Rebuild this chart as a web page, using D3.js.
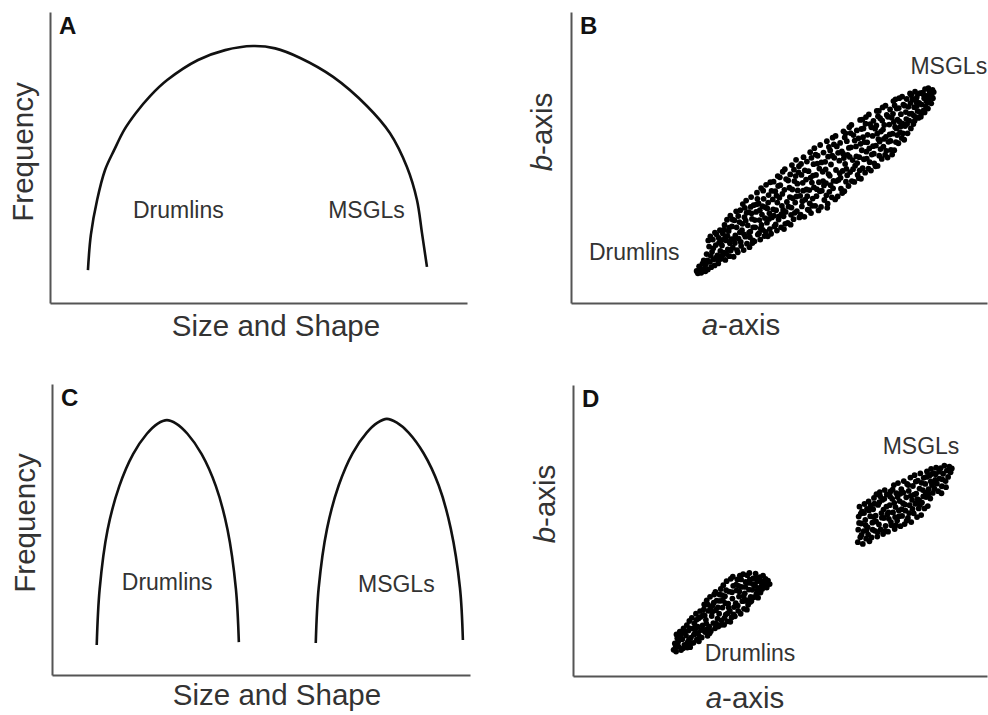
<!DOCTYPE html>
<html>
<head>
<meta charset="utf-8">
<script src="https://cdn.jsdelivr.net/npm/d3@7"></script>
<style>
  body { margin: 0; background: #fff; }
  svg { display: block; }
  text { font-family: "Liberation Sans", Arial, Helvetica, sans-serif; }
</style>
</head>
<body>
<div id="chart"></div>
<script>
// Frequency curves, [size/shape, frequency] in arbitrary 0-100 units
const curveA = [[9.1,11.3],[9.8,23.4],[11.3,35.4],[13.2,45.7],[15.4,52.6],[17.8,59.5],[20.6,65.3],[24.0,71.1],[28.1,76.6],[35.5,83.5],[42.0,86.9],[48.7,88.3],[54.0,87.5],[60.0,84.2],[67.9,77.7],[76.0,67.7],[81.5,58.4],[85.6,46.7],[88.0,35.4],[89.2,24.1],[90.4,12.4]];
const curveC1 = [[10.7,10.3],[11.4,29.5],[13.3,49.9],[16.1,64.9],[19.4,75.9],[22.7,82.9],[25.3,86.4],[27.5,87.6],[29.7,86.4],[32.4,82.9],[35.8,75.9],[39.2,64.9],[42.0,49.9],[44.0,29.5],[44.7,11.3]];
const curveC2 = [[63.1,11.0],[63.8,29.9],[65.8,50.3],[68.6,65.2],[71.9,76.2],[75.3,83.3],[77.9,86.7],[80.1,88.0],[82.5,86.7],[85.3,83.3],[88.9,76.2],[92.5,65.2],[95.4,50.3],[97.6,29.9],[98.3,12.0]];

// Scatter of a-axis vs b-axis, panel B (one continuous population)
const scatterB = [
[30.2,11.0],[30.8,12.6],[31.3,10.4],[31.6,13.5],[32.0,11.8],[30.5,10.2],[31.9,14.6],[32.3,10.9],[31.1,11.7],
[32.4,13.2],[32.6,16.8],[32.9,11.5],[33.2,19.4],[33.4,14.1],[33.7,12.3],[33.9,17.6],[34.1,21.8],[34.3,15.0],[34.5,12.9],[34.8,19.9],[35.0,23.5],[35.2,16.4],[35.4,13.6],[35.6,20.7],[35.8,25.0],[35.9,17.9],[34.6,24.2],[33.0,21.5],[35.3,14.8],
[32.8,14.6],[33.6,16.2],[34.2,18.8],[34.9,15.6],[35.5,22.4],[33.5,22.9],[35.7,15.1],
[36.1,15.2],[36.3,19.8],[36.5,23.9],[36.7,17.3],[36.9,26.8],[37.1,14.8],[37.3,21.5],[37.5,28.6],[37.7,18.4],[37.9,24.7],[38.1,16.1],[38.3,30.0],[38.5,21.9],[38.7,26.3],[38.9,19.0],[39.1,15.9],[39.3,28.4],[39.5,23.2],[39.7,31.5],[39.9,18.2],[36.4,16.4],[38.0,25.9],[39.4,20.6],[37.0,22.3],
[36.2,21.6],[36.8,25.2],[37.4,16.8],[37.6,23.1],[38.4,18.0],[38.8,28.7],[39.2,22.0],[39.8,26.0],[38.2,20.5],
[40.1,17.4],[40.3,22.1],[40.5,27.8],[40.7,31.9],[40.9,19.6],[41.1,25.0],[41.3,34.0],[41.5,18.2],[41.7,29.5],[41.9,22.8],[42.1,35.2],[42.3,20.4],[42.5,26.7],[42.7,31.2],[42.9,19.2],[43.1,24.5],[43.3,36.4],[43.5,28.9],[43.7,21.5],[43.9,33.6],[40.6,24.3],[41.8,32.7],[43.0,22.6],[42.0,28.3],[43.8,26.0],
[40.2,29.9],[40.8,21.0],[41.2,27.2],[41.6,23.6],[42.2,31.0],[42.8,24.2],[43.2,33.0],[43.6,20.6],[43.4,30.8],
[44.1,21.2],[44.3,26.0],[44.5,31.3],[44.7,37.9],[44.9,23.5],[45.1,34.2],[45.3,28.5],[45.5,21.8],[45.7,39.5],[45.9,30.4],[46.1,25.1],[46.3,35.8],[46.5,23.0],[46.7,32.9],[46.9,40.6],[47.1,27.6],[47.3,22.9],[47.5,37.1],[47.7,30.8],[47.9,41.5],[44.6,33.9],[45.8,26.8],[46.6,29.2],[47.4,34.5],[45.2,24.0],[47.8,25.4],
[44.2,28.5],[44.8,35.8],[45.4,31.9],[45.6,25.6],[46.2,38.6],[46.8,24.4],[47.2,32.5],[47.6,28.9],[46.0,33.3],
[48.1,23.8],[48.3,29.4],[48.5,35.6],[48.7,41.7],[48.9,26.3],[49.1,38.4],[49.3,31.9],[49.5,24.9],[49.7,43.6],[49.9,28.7],[50.1,36.2],[50.3,40.5],[50.5,26.0],[50.7,33.4],[50.9,45.1],[51.1,29.8],[51.3,38.9],[51.5,27.2],[51.7,42.6],[51.9,34.7],[48.6,32.2],[49.4,36.9],[50.6,30.5],[51.4,46.0],[49.8,40.2],[51.0,32.0],
[48.2,38.5],[48.8,30.0],[49.2,27.0],[49.6,34.5],[50.2,43.2],[50.8,37.5],[51.2,25.4],[51.6,31.3],[50.0,29.8],
[52.1,27.5],[52.3,33.1],[52.5,39.6],[52.7,44.2],[52.9,30.3],[53.1,47.4],[53.3,36.0],[53.5,28.8],[53.7,41.9],[53.9,34.5],[54.1,49.2],[54.3,31.6],[54.5,38.7],[54.7,44.9],[54.9,29.4],[55.1,36.8],[55.3,47.8],[55.5,33.2],[55.7,41.3],[55.9,50.1],[52.6,36.4],[53.6,45.8],[54.4,41.0],[55.2,30.4],[53.0,32.8],[55.8,38.6],
[52.2,42.1],[52.8,26.9],[53.2,39.0],[53.8,31.0],[54.2,36.6],[54.8,47.0],[55.4,44.0],[55.6,35.0],[54.0,43.6],
[56.1,29.6],[56.3,35.5],[56.5,42.4],[56.7,48.6],[56.9,32.1],[57.1,45.3],[57.3,38.8],[57.5,51.8],[57.7,30.9],[57.9,41.4],[58.1,35.9],[58.3,47.7],[58.5,53.2],[58.7,33.4],[58.9,44.0],[59.1,39.1],[59.3,50.6],[59.5,31.8],[59.7,46.2],[59.9,54.3],[56.6,39.0],[57.4,34.2],[58.2,43.8],[59.0,36.7],[59.6,41.5],[57.8,49.9],
[56.2,45.6],[56.8,36.7],[57.2,31.9],[57.6,43.1],[58.4,39.7],[58.8,51.0],[59.2,47.9],[59.8,38.4],[58.0,33.4],
[60.1,33.0],[60.3,38.6],[60.5,45.1],[60.7,51.7],[60.9,35.4],[61.1,48.5],[61.3,41.2],[61.5,55.6],[61.7,34.1],[61.9,44.3],[62.1,38.2],[62.3,52.4],[62.5,47.6],[62.7,36.3],[62.9,56.8],[63.1,42.0],[63.3,49.9],[63.5,35.6],[63.7,45.7],[63.9,53.8],[60.6,41.9],[61.4,37.0],[62.2,43.7],[63.0,39.4],[61.8,50.3],[63.6,57.4],
[60.2,48.3],[60.8,40.4],[61.2,45.9],[61.6,32.7],[62.4,40.5],[62.8,50.6],[63.2,54.5],[63.8,41.9],[62.0,53.6],
[64.1,36.6],[64.3,42.3],[64.5,48.9],[64.7,55.0],[64.9,39.3],[65.1,52.1],[65.3,45.4],[65.5,59.0],[65.7,38.4],[65.9,47.8],[66.1,41.7],[66.3,55.6],[66.5,50.9],[66.7,40.2],[66.9,60.4],[67.1,45.0],[67.3,53.5],[67.5,41.9],[67.7,49.1],[67.9,57.7],[64.6,44.6],[65.4,51.3],[66.2,46.1],[67.0,50.2],[65.8,56.9],[67.4,61.2],
[64.2,51.6],[64.8,43.0],[65.2,37.8],[65.6,49.8],[66.4,43.9],[66.8,53.3],[67.2,58.4],[67.8,46.0],[66.0,58.3],
[68.1,41.6],[68.3,47.2],[68.5,53.8],[68.7,59.3],[68.9,44.0],[69.1,56.6],[69.3,50.1],[69.5,62.9],[69.7,42.7],[69.9,52.5],[70.1,46.3],[70.3,60.0],[70.5,55.3],[70.7,44.8],[70.9,63.9],[71.1,49.6],[71.3,57.8],[71.5,46.2],[71.7,53.1],[71.9,61.5],[68.6,50.4],[69.4,45.6],[70.2,57.0],[71.0,52.0],[69.8,59.8],[71.6,64.8],
[68.2,55.8],[68.8,48.1],[69.2,42.9],[69.6,54.7],[70.4,49.4],[70.8,61.6],[71.2,55.2],[71.8,48.4],[70.0,63.0],
[72.1,45.5],[72.3,51.0],[72.5,57.4],[72.7,62.6],[72.9,48.0],[73.1,59.9],[73.3,54.1],[73.5,66.0],[73.7,47.1],[73.9,56.3],[74.1,50.6],[74.3,63.5],[74.5,58.9],[74.7,49.5],[74.9,67.2],[75.1,53.7],[75.3,61.2],[75.5,50.9],[75.7,57.1],[75.9,64.6],[72.6,53.9],[73.4,61.0],[74.2,55.5],[75.0,59.6],[73.8,64.2],[75.6,67.8],
[72.2,60.4],[72.8,51.3],[73.2,47.0],[73.6,58.2],[74.4,52.9],[74.8,62.7],[75.2,56.4],[75.8,52.3],[74.0,66.0],
[76.1,50.0],[76.3,55.4],[76.5,61.3],[76.7,66.5],[76.9,52.6],[77.1,63.7],[77.3,58.2],[77.5,69.4],[77.7,52.5],[77.9,60.5],[78.1,55.3],[78.3,66.8],[78.5,63.0],[78.7,54.9],[78.9,70.4],[79.1,58.6],[79.3,64.9],[79.5,56.7],[79.7,61.6],[79.9,68.2],[76.6,57.9],[77.4,65.0],[78.2,60.0],[79.0,62.3],[77.8,67.9],[79.6,70.9],
[76.2,64.0],[76.8,55.7],[77.2,51.0],[77.6,62.2],[78.4,57.7],[78.8,67.0],[79.2,60.6],[79.8,58.3],[78.0,70.0],
[80.1,56.1],[80.3,60.8],[80.5,65.6],[80.7,70.1],[80.9,58.3],[81.1,67.4],[81.3,62.7],[81.5,72.0],[81.7,60.0],[81.9,65.1],[82.1,69.9],[82.3,61.5],[82.5,67.3],[82.7,72.6],[82.9,63.9],[83.1,70.6],[83.3,66.0],[83.5,63.6],[83.7,68.8],[83.9,72.1],[80.6,63.2],[81.6,68.7],[82.4,64.4],[83.2,67.9],
[80.2,67.8],[80.8,61.5],[81.4,65.0],[81.8,71.4],[82.6,62.6],[83.0,69.2],[83.4,71.8],[83.8,65.6],
[84.1,64.0],[84.3,68.2],[84.5,72.3],[84.7,66.1],[84.9,70.4],[85.1,73.5],[85.3,67.6],[85.5,71.2],[85.7,69.0],[85.9,73.8],[86.1,70.3],[86.4,72.4],[86.7,71.0],[86.9,73.2],[85.0,65.5],[87.2,72.5],
[84.4,65.4],[84.8,71.6],[85.4,69.4],[85.8,66.8],[86.2,72.6],[86.6,68.6],[87.0,70.4]
];

// Panel D: two separate populations
const drumlinsD = [
[24.3,9.0],[24.6,11.2],[24.9,8.4],[25.2,13.0],[25.5,10.1],[25.8,15.2],[26.1,8.9],[26.4,12.6],[26.7,16.4],[26.9,10.7],[25.0,14.3],[26.2,14.8],[24.8,9.9],[26.6,9.5],
[27.1,10.2],[27.3,13.9],[27.5,17.5],[27.7,11.6],[27.9,15.6],[28.1,18.9],[28.3,9.9],[28.5,13.2],[28.7,20.0],[28.9,16.3],[29.1,11.4],[29.3,18.1],[29.5,14.7],[29.7,21.4],[29.9,12.5],[30.1,17.0],[30.3,19.8],[30.5,13.6],[30.7,22.3],[30.9,15.8],[28.0,12.4],[29.6,16.4],[30.4,11.9],
[31.1,13.2],[31.3,17.4],[31.5,21.0],[31.7,24.6],[31.9,15.1],[32.1,19.3],[32.3,26.0],[32.5,13.8],[32.7,22.4],[32.9,17.0],[33.1,27.2],[33.3,15.5],[33.5,20.6],[33.7,24.1],[33.9,18.2],[34.1,28.0],[34.3,16.4],[34.5,22.6],[34.7,25.9],[34.9,19.7],[31.8,20.8],[33.2,23.0],[34.4,28.9],[32.4,16.1],
[35.1,17.0],[35.3,21.4],[35.5,25.8],[35.7,29.9],[35.9,19.1],[36.1,23.5],[36.3,31.2],[36.5,17.6],[36.7,27.4],[36.9,21.1],[37.1,32.6],[37.3,18.8],[37.5,24.9],[37.7,29.0],[37.9,22.3],[38.1,33.4],[38.3,20.1],[38.5,26.6],[38.7,31.0],[38.9,23.7],[36.0,27.8],[37.4,21.6],[38.6,34.1],[36.8,25.0],
[39.1,20.5],[39.3,25.0],[39.5,29.4],[39.7,33.2],[39.9,22.4],[40.1,27.3],[40.3,34.5],[40.5,21.4],[40.7,30.6],[40.9,25.7],[41.1,35.0],[41.3,23.1],[41.5,28.4],[41.7,32.3],[41.9,26.1],[42.1,34.6],[42.3,24.5],[42.5,29.7],[42.7,33.1],[42.9,27.2],[40.0,31.0],[41.4,25.8],[42.6,35.4],
[43.1,25.8],[43.3,29.6],[43.5,33.5],[43.7,27.1],[43.9,31.4],[44.1,35.2],[44.3,28.3],[44.5,32.6],[44.7,26.9],[44.9,30.2],[45.1,34.0],[45.3,28.7],[45.5,32.1],[45.7,29.9],[45.9,34.5],[46.2,31.0],[46.5,33.4],[46.8,30.4],[47.1,32.8],[47.5,31.6],[44.0,30.9],[45.0,32.9],
[25.4,11.8],[26.0,13.6],[27.0,15.0],[27.6,9.8],[28.2,16.4],[28.6,11.3],[29.2,14.2],[29.8,19.3],[30.2,14.8],[30.8,20.3],[31.4,15.9],[31.6,22.9],[32.2,18.0],[32.6,24.5],[33.0,14.7],[33.6,21.9],[34.0,25.2],[34.6,18.0],[35.0,23.6],[35.4,28.0],[35.8,17.6],[36.2,26.0],[36.6,20.0],[37.0,29.5],[37.6,23.5],[38.0,18.6],[38.4,28.8],[38.8,21.2],[39.4,31.4],[39.8,24.2],[40.2,29.0],[40.6,33.2],[41.2,27.4],[41.6,30.6],[42.0,22.8],[42.4,32.0],[42.8,25.4],[43.4,31.6],[44.2,33.6],[44.6,29.4],[45.4,30.6],[46.0,32.6],[46.6,31.8]
];
const msglsD = [
[68.8,46.0],[68.9,50.3],[69.0,54.8],[69.2,58.2],[69.4,47.7],[69.6,52.4],[69.8,56.6],[70.0,45.4],[70.2,49.8],[70.4,59.1],[70.6,53.6],[70.8,47.2],[71.0,57.4],[71.2,51.1],[71.4,60.0],[71.6,46.3],[71.8,54.9],[69.5,55.8],[70.9,50.0],[71.5,56.9],
[72.1,47.6],[72.3,52.7],[72.5,57.3],[72.7,61.2],[72.9,49.9],[73.1,55.1],[73.3,62.5],[73.5,47.9],[73.7,58.8],[73.9,52.1],[74.1,63.2],[74.3,50.4],[74.5,56.0],[74.7,60.5],[74.9,48.8],[75.1,54.3],[75.3,63.9],[75.5,51.6],[75.7,58.2],[75.9,55.5],[72.6,54.6],[74.0,59.7],[75.2,60.9],
[76.1,49.6],[76.3,54.0],[76.5,58.7],[76.7,63.4],[76.9,51.8],[77.1,60.9],[77.3,56.2],[77.5,65.6],[77.7,50.5],[77.9,58.0],[78.1,62.8],[78.3,53.4],[78.5,66.3],[78.7,56.9],[78.9,60.1],[79.1,51.5],[79.3,64.2],[79.5,55.0],[79.7,59.4],[79.9,67.0],[76.6,61.7],[77.8,54.6],[79.0,62.6],
[80.1,52.2],[80.3,56.8],[80.5,61.4],[80.7,66.0],[80.9,54.3],[81.1,63.6],[81.3,58.7],[81.5,68.2],[81.7,52.9],[81.9,60.5],[82.1,65.3],[82.3,55.9],[82.5,69.0],[82.7,59.2],[82.9,62.7],[83.1,54.6],[83.3,67.1],[83.5,57.6],[83.7,64.4],[83.9,69.6],[81.2,56.0],[82.4,62.3],[83.6,60.4],
[84.1,55.3],[84.3,59.6],[84.5,63.9],[84.7,68.1],[84.9,57.6],[85.1,66.0],[85.3,61.5],[85.5,70.3],[85.7,58.4],[85.9,64.2],[86.1,68.8],[86.3,61.0],[86.5,71.2],[86.7,65.6],[86.9,62.9],[87.1,69.7],[87.3,64.4],[87.5,67.4],[87.7,71.6],[87.9,66.1],[85.2,63.0],[86.4,66.9],
[88.2,63.5],[88.5,67.8],[88.8,71.4],[89.1,65.2],[89.4,69.5],[89.7,72.3],[90.0,67.0],[90.3,70.6],[90.6,68.4],[90.9,71.9],[91.2,70.0],[91.5,71.3],[89.0,62.8],[90.1,64.9],
[69.1,52.6],[69.7,48.5],[70.3,56.0],[70.7,51.8],[71.3,48.6],[71.9,58.6],[72.4,50.3],[72.8,59.2],[73.2,53.1],[73.6,49.4],[74.2,61.8],[74.6,54.4],[75.0,57.2],[75.4,49.9],[75.8,62.4],[76.2,56.2],[76.8,52.9],[77.2,64.0],[77.6,59.5],[78.0,51.8],[78.4,61.5],[78.8,54.9],[79.4,57.3],[79.8,63.0],[80.2,58.9],[80.6,53.4],[81.0,65.6],[81.6,61.9],[82.0,57.4],[82.8,66.8],[83.2,60.8],[83.8,58.8],[84.2,66.4],[84.6,61.7],[85.4,68.4],[85.8,62.4],[86.6,69.4],[87.0,66.3],[87.6,69.3],[88.4,70.2],[89.2,67.6]
];

// Annotation labels, anchored in data units
const labelsA = [{text: 'Drumlins', x: 19.9, y: 29.2}, {text: 'MSGLs', x: 66.7, y: 29.2}];
const labelsB = [{text: 'Drumlins', x: 4.3, y: 14.8}, {text: 'MSGLs', x: 81.6, y: 78.7}];
const labelsC = [{text: 'Drumlins', x: 16.7, y: 29.2}, {text: 'MSGLs', x: 73.2, y: 28.5}];
const labelsD = [{text: 'Drumlins', x: 31.8, y: 5.2}, {text: 'MSGLs', x: 74.8, y: 76.3}];

const svg = d3.select('#chart')
  .append('svg')
  .attr('width', 988)
  .attr('height', 715);

function drawPanel(p) {
  const x = d3.scaleLinear().domain([0, 100]).range([p.left, p.right]);
  const y = d3.scaleLinear().domain([0, 100]).range([p.bottom, p.top]);
  const g = svg.append('g');

  // bare axes, no ticks
  g.append('g')
    .attr('transform', `translate(0,${p.bottom})`)
    .call(d3.axisBottom(x).tickValues([]).tickSizeOuter(0));
  g.append('g')
    .attr('transform', `translate(${p.left},0)`)
    .call(d3.axisLeft(y).tickValues([]).tickSizeOuter(0));
  g.selectAll('.domain')
    .attr('stroke', '#555')
    .attr('stroke-width', 2);

  // panel letter
  g.append('text')
    .attr('x', p.left + 9)
    .attr('y', p.top + 22)
    .attr('font-size', 24)
    .attr('font-weight', 'bold')
    .attr('fill', '#111')
    .text(p.letter);

  // axis titles
  const xt = g.append('text')
    .attr('x', p.xTitle[0])
    .attr('y', p.xTitle[1])
    .attr('text-anchor', 'middle')
    .attr('font-size', 29.5)
    .attr('fill', '#333');
  const yt = g.append('text')
    .attr('transform', `translate(${p.yTitle[0]},${p.yTitle[1]}) rotate(-90)`)
    .attr('text-anchor', 'middle')
    .attr('font-size', 29.5)
    .attr('fill', '#333');
  if (p.italic) {
    xt.append('tspan').attr('font-style', 'italic').text('a');
    xt.append('tspan').text('-axis');
    yt.append('tspan').attr('font-style', 'italic').text('b');
    yt.append('tspan').text('-axis');
  } else {
    xt.text('Size and Shape');
    yt.text('Frequency');
  }

  // curves
  const line = d3.line()
    .x(d => x(d[0]))
    .y(d => y(d[1]))
    .curve(d3.curveCatmullRom.alpha(0.5));
  (p.curves || []).forEach(c => {
    g.append('path')
      .attr('d', line(c))
      .attr('fill', 'none')
      .attr('stroke', '#111')
      .attr('stroke-width', 2.6);
  });

  // scatter points
  (p.points || []).forEach(set => {
    g.append('g').selectAll('circle')
      .data(set)
      .enter()
      .append('circle')
      .attr('cx', d => x(d[0]))
      .attr('cy', d => y(d[1]))
      .attr('r', 2.9)
      .attr('fill', '#000');
  });

  // labels
  g.selectAll('.lbl')
    .data(p.labels)
    .enter()
    .append('text')
    .attr('class', 'lbl')
    .attr('x', d => x(d.x))
    .attr('y', d => y(d.y))
    .attr('font-size', 23)
    .attr('fill', '#333')
    .text(d => d.text);
}

drawPanel({letter: 'A', left: 50, right: 467, top: 12, bottom: 303,
  xTitle: [276, 336], yTitle: [33, 152], curves: [curveA], labels: labelsA});
drawPanel({letter: 'B', left: 571, right: 987, top: 12, bottom: 303, italic: true,
  xTitle: [741, 335], yTitle: [552, 132], points: [scatterB], labels: labelsB});
drawPanel({letter: 'C', left: 52, right: 470, top: 384, bottom: 675,
  xTitle: [277, 705], yTitle: [35, 523], curves: [curveC1, curveC2], labels: labelsC});
drawPanel({letter: 'D', left: 573, right: 987, top: 385, bottom: 676, italic: true,
  xTitle: [745, 708], yTitle: [555, 504], points: [drumlinsD, msglsD], labels: labelsD});
</script>
</body>
</html>
